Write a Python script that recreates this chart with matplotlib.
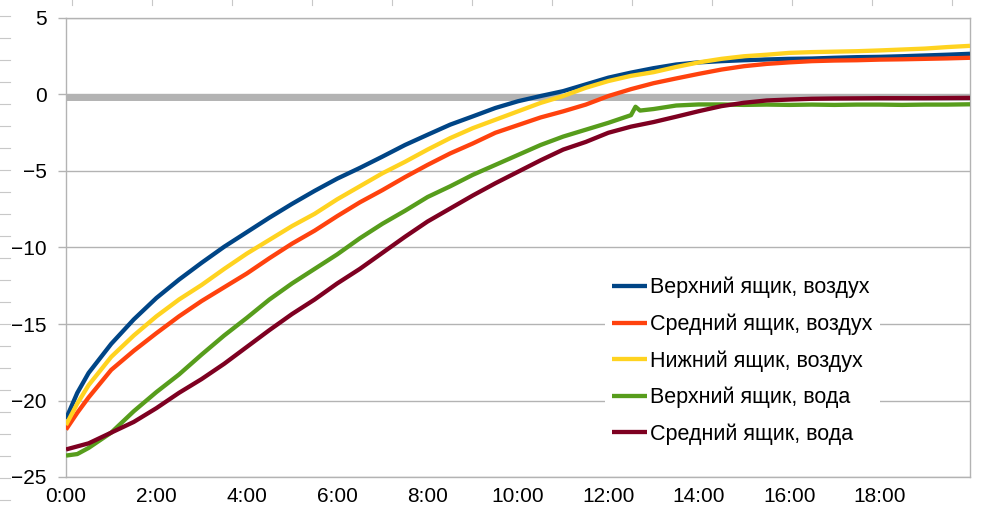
import matplotlib
matplotlib.use("Agg")
import matplotlib.pyplot as plt
from matplotlib.lines import Line2D
from matplotlib.ticker import FuncFormatter

plt.rcParams["font.family"] = ["Liberation Sans", "DejaVu Sans"]

# ------------------------------------------------------------
# данные (часы от начала, температура °C)
# ------------------------------------------------------------
hours = [0, 0.25, 0.5, 1, 1.5, 2, 2.5, 3, 3.5, 4, 4.5, 5, 5.5, 6, 6.5, 7, 7.5,
         8, 8.5, 9, 9.5, 10, 10.5, 11, 11.5, 12, 12.5, 13, 13.5, 14, 14.5,
         15, 15.5, 16, 16.5, 17, 17.5, 18, 18.5, 19, 19.5, 20]

top_air = [-21.2, -19.5, -18.2, -16.3, -14.7, -13.3, -12.1, -11.0, -9.95, -9.0,
           -8.05, -7.15, -6.3, -5.5, -4.8, -4.06, -3.3, -2.63, -1.97, -1.43,
           -0.88, -0.44, -0.1, 0.22, 0.66, 1.1, 1.43, 1.72, 1.96, 2.1, 2.18,
           2.24, 2.29, 2.33, 2.35, 2.4, 2.44, 2.46, 2.5, 2.55, 2.6, 2.66]

mid_air = [-21.9, -20.8, -19.8, -18.0, -16.75, -15.6, -14.5, -13.5, -12.6, -11.7,
           -10.7, -9.75, -8.9, -7.95, -7.05, -6.25, -5.4, -4.6, -3.85, -3.2,
           -2.5, -2.0, -1.5, -1.1, -0.66, -0.1, 0.35, 0.74, 1.05, 1.35, 1.63,
           1.85, 2.0, 2.1, 2.18, 2.22, 2.24, 2.28, 2.3, 2.33, 2.36, 2.4]

low_air = [-21.6, -20.2, -19.0, -17.15, -15.75, -14.5, -13.4, -12.45, -11.4, -10.4,
           -9.5, -8.6, -7.8, -6.85, -6.0, -5.15, -4.4, -3.6, -2.85, -2.2,
           -1.65, -1.1, -0.55, -0.1, 0.44, 0.88, 1.22, 1.46, 1.8, 2.1, 2.33,
           2.5, 2.6, 2.72, 2.77, 2.8, 2.83, 2.88, 2.94, 3.0, 3.1, 3.18]

top_water_hours = [0, 0.25, 0.5, 1, 1.5, 2, 2.5, 3, 3.5, 4, 4.5, 5, 5.5, 6, 6.5,
                   7, 7.5, 8, 8.5, 9, 9.5, 10, 10.5, 11, 11.5, 12, 12.5, 12.6,
                   12.7, 13, 13.5, 14, 14.5, 15, 15.5, 16, 16.5, 17, 17.5, 18,
                   18.5, 19, 19.5, 20]
top_water = [-23.6, -23.5, -23.1, -22.1, -20.7, -19.45, -18.3, -17.0, -15.75,
             -14.6, -13.4, -12.35, -11.4, -10.45, -9.4, -8.45, -7.6, -6.7, -6.0,
             -5.25, -4.6, -3.95, -3.3, -2.75, -2.3, -1.85, -1.35, -0.8, -1.05,
             -0.95, -0.72, -0.65, -0.65, -0.68, -0.66, -0.68, -0.66, -0.68,
             -0.66, -0.66, -0.68, -0.66, -0.66, -0.64]

mid_water = [-23.2, -23.0, -22.8, -22.1, -21.4, -20.5, -19.5, -18.6, -17.6, -16.5,
             -15.4, -14.35, -13.4, -12.35, -11.4, -10.35, -9.3, -8.3, -7.45, -6.6,
             -5.8, -5.05, -4.3, -3.6, -3.1, -2.5, -2.1, -1.8, -1.45, -1.09, -0.76,
             -0.54, -0.39, -0.33, -0.28, -0.26, -0.25, -0.24, -0.24, -0.24, -0.23,
             -0.22]

zero_level = -0.2

labels = ["Верхний ящик, воздух", "Средний ящик, воздух", "Нижний ящик, воздух",
          "Верхний ящик, вода", "Средний ящик, вода"]
colors = ["#004586", "#ff420e", "#ffd320", "#579d1c", "#7e0021"]

x_ticks = [0, 2, 4, 6, 8, 10, 12, 14, 16, 18]
y_ticks = [-25, -20, -15, -10, -5, 0, 5]

# ------------------------------------------------------------
# рисунок
# ------------------------------------------------------------
W, H = 1001, 517
fig = plt.figure(figsize=(W / 100, H / 100), dpi=100)
ax = fig.add_axes([66 / W, 40 / H, 904 / W, 459 / H])

grid_c = "#b3b3b3"
ax.set_xlim(0, 20)
ax.set_ylim(-25, 5)
ax.set_yticks(y_ticks)
ax.set_xticks(x_ticks)
ax.xaxis.set_major_formatter(FuncFormatter(lambda v, p: f"{int(v)}:00"))
ax.grid(axis="y", color=grid_c, lw=1)
ax.set_axisbelow(True)
for s in ax.spines.values():
    s.set_color(grid_c)
    s.set_linewidth(1)
ax.tick_params(axis="y", length=6, width=1, color=grid_c, pad=8, labelsize=15)
ax.tick_params(axis="x", length=0, pad=7, labelsize=15)

ax.axhline(zero_level, color=grid_c, lw=4.3, zorder=1.5)

series = [(hours, top_air), (hours, mid_air), (hours, low_air),
          (top_water_hours, top_water), (hours, mid_water)]
for (xs, ys), lab, c in zip(series, labels, colors):
    ax.plot(xs, ys, color=c, lw=3.1, label=lab, solid_capstyle="butt",
            solid_joinstyle="round", zorder=3)

leg = ax.legend(loc="center left", bbox_to_anchor=(0.596, 0.253),
                borderaxespad=0, borderpad=0.35, fontsize=15.5,
                handlelength=1.62, handletextpad=0.12, labelspacing=0.7,
                frameon=True, fancybox=False, framealpha=1)
leg.get_frame().set_edgecolor("none")
leg.get_frame().set_facecolor("white")

# обрезки соседних графиков по краям картинки
for py in range(16, H, 22):
    fig.add_artist(Line2D([0, 10 / W], [1 - py / H, 1 - py / H],
                          transform=fig.transFigure, color="#c8c8c8", lw=0.8))
for px in range(72, W, 80):
    fig.add_artist(Line2D([px / W, px / W], [1, 1 - 5 / H],
                          transform=fig.transFigure, color="#c8c8c8", lw=0.8))

fig.savefig("out.png", dpi=100)
